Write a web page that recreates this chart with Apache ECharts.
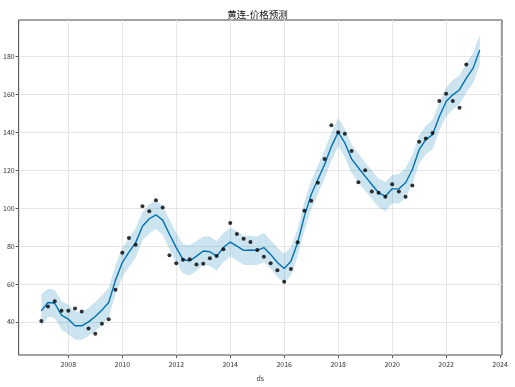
<!DOCTYPE html>
<html>
<head>
<meta charset="utf-8">
<script src="https://cdn.jsdelivr.net/npm/echarts@6/dist/echarts.min.js"></script>
<style>html,body{margin:0;padding:0;background:#fff}#c{width:515px;height:387px}</style>
</head>
<body>
<div id="c"></div>
<script>
// Observed quarterly dates (ds) and values (y)
const obsDates = [
 '2007-01-01','2007-04-01','2007-07-01','2007-10-01',
 '2008-01-01','2008-04-01','2008-07-01','2008-10-01',
 '2009-01-01','2009-04-01','2009-07-01','2009-10-01',
 '2010-01-01','2010-04-01','2010-07-01','2010-10-01',
 '2011-01-01','2011-04-01','2011-07-01','2011-10-01',
 '2012-01-01','2012-04-01','2012-07-01','2012-10-01',
 '2013-01-01','2013-04-01','2013-07-01','2013-10-01',
 '2014-01-01','2014-04-01','2014-07-01','2014-10-01',
 '2015-01-01','2015-04-01','2015-07-01','2015-10-01',
 '2016-01-01','2016-04-01','2016-07-01','2016-10-01',
 '2017-01-01','2017-04-01','2017-07-01','2017-10-01',
 '2018-01-01','2018-04-01','2018-07-01','2018-10-01',
 '2019-01-01','2019-04-01','2019-07-01','2019-10-01',
 '2020-01-01','2020-04-01','2020-07-01','2020-10-01',
 '2021-01-01','2021-04-01','2021-07-01','2021-10-01',
 '2022-01-01','2022-04-01','2022-07-01','2022-10-01'
];
const obsValues = [
 40.4, 48.1, 50.9, 45.8,
 45.8, 47.0, 45.5, 36.5,
 33.7, 39.0, 41.4, 57.0,
 76.5, 84.2, 80.7, 101.0,
 98.3, 104.2, 100.4, 75.1,
 70.9, 72.8, 73.0, 70.2,
 70.7, 73.5, 74.7, 78.3,
 92.1, 86.3, 83.9, 82.1,
 77.9, 74.4, 70.9, 67.2,
 61.2, 67.9, 82.0, 98.6,
 103.9, 113.4, 126.0, 143.7,
 140.0, 139.3, 130.2, 113.7,
 120.0, 108.8, 108.1, 106.0,
 112.6, 108.8, 106.0, 112.0,
 135.1, 136.8, 139.7, 156.5,
 160.4, 156.5, 153.0, 175.8
];
// Forecast dates (history + 2 future quarters)
const fcDates = obsDates.concat(['2023-01-01','2023-04-01']);
const yhat = [
 45.8, 50.2, 49.8, 43.5,
 41.4, 37.9, 37.9, 40.0,
 42.8, 46.2, 50.2, 62.0,
 71.3, 76.8, 81.8, 90.5,
 94.4, 96.5, 93.7, 86.2,
 79.2, 73.0, 72.1, 74.7,
 77.4, 77.0, 74.7, 79.2,
 82.1, 80.0, 77.7, 77.9,
 77.7, 79.2, 75.6, 71.3,
 68.2, 72.0, 81.8, 95.8,
 107.2, 115.1, 123.0, 132.6,
 140.0, 134.4, 126.0, 121.3,
 116.8, 112.5, 108.1, 106.3,
 110.2, 110.2, 113.4, 120.4,
 130.9, 136.2, 138.8, 148.4,
 156.3, 159.8, 162.5, 168.6,
 173.9, 183.5
];
const yhatUpper = [
 54.5, 57.5, 57.0, 51.0,
 49.0, 45.5, 45.0, 47.5,
 50.5, 54.0, 58.0, 70.0,
 79.0, 84.5, 89.5, 98.0,
 102.0, 104.5, 101.0, 94.0,
 87.0, 81.0, 80.5, 82.5,
 85.0, 85.0, 82.5, 87.0,
 89.5, 88.0, 85.5, 85.5,
 85.0, 87.0, 83.0, 79.0,
 76.0, 79.5, 89.0, 103.5,
 114.5, 122.5, 130.5, 140.0,
 147.5, 142.0, 133.5, 129.0,
 124.0, 120.0, 115.5, 114.0,
 117.5, 118.0, 121.0, 128.0,
 138.5, 143.5, 146.5, 156.0,
 163.5, 167.5, 170.0, 176.5,
 182.0, 191.5
];
const yhatLower = [
 37.5, 42.5, 42.0, 36.0,
 33.5, 30.5, 30.5, 32.5,
 35.0, 38.5, 42.5, 54.5,
 63.5, 69.0, 74.0, 83.0,
 86.5, 89.0, 86.0, 78.5,
 71.5, 65.5, 64.5, 67.0,
 70.0, 69.5, 67.0, 71.5,
 74.5, 72.5, 70.0, 70.0,
 70.0, 71.5, 68.0, 63.5,
 60.5, 64.5, 74.5, 88.0,
 99.5, 107.5, 115.5, 125.0,
 132.5, 127.0, 118.5, 113.5,
 109.0, 105.0, 100.5, 98.5,
 102.5, 102.5, 105.5, 113.0,
 123.5, 128.5, 131.0, 141.0,
 148.5, 152.0, 155.0, 161.0,
 166.0, 175.5
];
const xTicks = [2008, 2010, 2012, 2014, 2016, 2018, 2020, 2022, 2024];
const yTicks = [40, 60, 80, 100, 120, 140, 160, 180];

function decYear(s) {
  const [y, m, d] = s.split('-').map(Number);
  const start = Date.UTC(y, 0, 1), end = Date.UTC(y + 1, 0, 1);
  return y + (Date.UTC(y, m - 1, d) - start) / (end - start);
}
const obsData = obsDates.map((d, i) => [decYear(d), obsValues[i]]);
const lineData = fcDates.map((d, i) => [decYear(d), yhat[i]]);
const bandData = fcDates.map((d, i) => [decYear(d), yhatLower[i], yhatUpper[i]]);

const FONT = '"Noto Sans CJK SC", "DejaVu Sans", sans-serif';
const chart = echarts.init(document.getElementById('c'), null, {renderer: 'canvas'});
chart.setOption({
  animation: false,
  backgroundColor: '#fff',
  title: {
    text: '黄连-价格预测', left: 'center', top: 5,
    textStyle: {fontFamily: FONT, fontSize: 9.5, fontWeight: 'normal', color: '#111'}
  },
  grid: {left: 17, right: 13, top: 20, bottom: 31, show: true, borderColor: '#444', borderWidth: 1, backgroundColor: 'transparent'},
  xAxis: {
    type: 'value', min: 2006.16, max: 2024.07,
    name: 'ds', nameLocation: 'middle', nameGap: 20,
    nameTextStyle: {fontFamily: FONT, fontSize: 7, color: '#333'},
    axisLine: {show: false},
    axisTick: {show: true, length: 3, inside: false, customValues: xTicks, lineStyle: {color: '#555'}},
    axisLabel: {customValues: xTicks, fontFamily: FONT, fontSize: 7, color: '#333', margin: 6, formatter: v => String(v)},
    splitLine: {show: true, lineStyle: {color: '#e6e6e6', width: 1}}
  },
  yAxis: {
    type: 'value', min: 22.5, max: 199.3,
    axisLine: {show: false},
    axisTick: {show: true, length: 3, customValues: yTicks, lineStyle: {color: '#555'}},
    axisLabel: {customValues: yTicks, fontFamily: FONT, fontSize: 7, color: '#333', margin: 4, formatter: v => String(v)},
    splitLine: {show: true, lineStyle: {color: '#e6e6e6', width: 1}}
  },
  series: [
    {
      type: 'custom', data: bandData, silent: true, z: 1,
      encode: {x: 0, y: [1, 2]},
      renderItem: function (params, api) {
        if (params.dataIndex !== 0) return null;
        const top = bandData.map(r => api.coord([r[0], r[2]]));
        const bot = bandData.map(r => api.coord([r[0], r[1]])).reverse();
        return {
          type: 'polygon',
          shape: {points: top.concat(bot)},
          style: {fill: 'rgba(0,114,178,0.2)', stroke: 'none'}
        };
      }
    },
    {type: 'line', data: lineData, symbol: 'none', lineStyle: {color: '#0072B2', width: 1.4}, z: 2},
    {type: 'scatter', data: obsData, symbol: 'circle', symbolSize: 4, itemStyle: {color: '#000'}, z: 3}
  ]
});
</script>
</body>
</html>
